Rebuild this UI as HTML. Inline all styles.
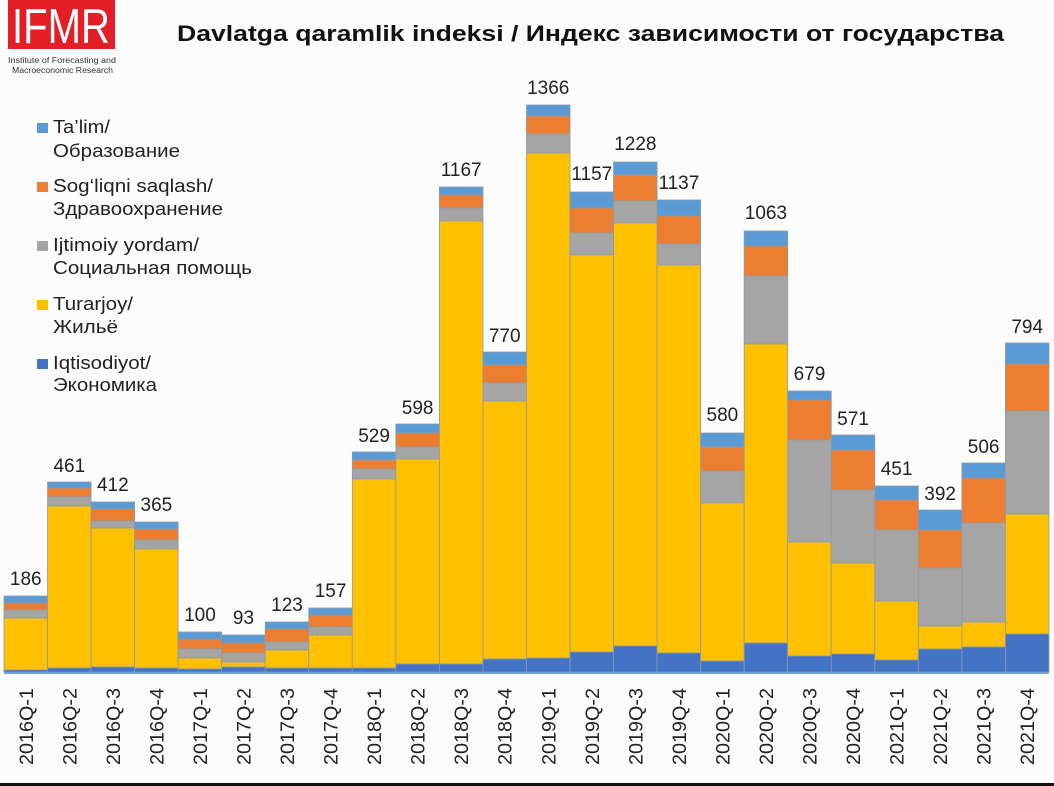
<!DOCTYPE html>
<html>
<head>
<meta charset="utf-8">
<style>
html,body{margin:0;padding:0;background:#fcfcfc;}
svg{display:block;}
text{font-family:"Liberation Sans",Arial,sans-serif;}
.a{fill:#5B9BD5}.b{fill:#ED7D31}.c{fill:#A5A5A5}.d{fill:#FFC000}.e{fill:#4472C4}
.bars rect{stroke:#8b9bab;stroke-width:0.8}
.v{font-size:19px;fill:#222;text-anchor:middle}
.xl{font-size:19px;fill:#222}
.lg{font-size:18px;fill:#222}
</style>
</head>
<body>
<svg width="1054" height="786" viewBox="0 0 1054 786" xmlns="http://www.w3.org/2000/svg">
<rect x="0" y="0" width="1054" height="786" fill="#fcfcfc"/>
<!-- logo -->
<rect x="8" y="0" width="107" height="49" fill="#E41E26"/>
<text x="12" y="43" font-size="49" fill="#fff" textLength="98" lengthAdjust="spacingAndGlyphs">IFMR</text>
<text x="8" y="63" font-size="8.5" fill="#333" textLength="108" lengthAdjust="spacingAndGlyphs">Institute of Forecasting and</text>
<text x="12" y="73" font-size="8.5" fill="#333" textLength="101" lengthAdjust="spacingAndGlyphs">Macroeconomic Research</text>
<!-- title -->
<text x="177" y="41" font-size="22" font-weight="bold" fill="#111" textLength="827" lengthAdjust="spacingAndGlyphs">Davlatga qaramlik indeksi / Индекс зависимости от государства</text>
<!-- legend -->
<rect class="a" x="37" y="123" width="11" height="10"/>
<text class="lg" x="53" y="133" textLength="57" lengthAdjust="spacingAndGlyphs">Ta’lim/</text>
<text class="lg" x="53" y="157" textLength="127" lengthAdjust="spacingAndGlyphs">Образование</text>
<rect class="b" x="37" y="182" width="11" height="10"/>
<text class="lg" x="53" y="192" textLength="160" lengthAdjust="spacingAndGlyphs">Sog‘liqni saqlash/</text>
<text class="lg" x="53" y="215" textLength="170" lengthAdjust="spacingAndGlyphs">Здравоохранение</text>
<rect class="c" x="37" y="241" width="11" height="10"/>
<text class="lg" x="53" y="251" textLength="146" lengthAdjust="spacingAndGlyphs">Ijtimoiy yordam/</text>
<text class="lg" x="53" y="274" textLength="199" lengthAdjust="spacingAndGlyphs">Социальная помощь</text>
<rect class="d" x="37" y="300" width="11" height="10"/>
<text class="lg" x="53" y="310" textLength="80" lengthAdjust="spacingAndGlyphs">Turarjoy/</text>
<text class="lg" x="53" y="333" textLength="65" lengthAdjust="spacingAndGlyphs">Жильё</text>
<rect class="e" x="37" y="359" width="11" height="10"/>
<text class="lg" x="53" y="369" textLength="98" lengthAdjust="spacingAndGlyphs">Iqtisodiyot/</text>
<text class="lg" x="53" y="391" textLength="104" lengthAdjust="spacingAndGlyphs">Экономика</text>
<!-- bars -->
<g class="bars">
<g transform="translate(4,0)"><rect class="a" x="0" width="43.54" y="596" height="7"/><rect class="b" x="0" width="43.54" y="603" height="7"/><rect class="c" x="0" width="43.54" y="610" height="8"/><rect class="d" x="0" width="43.54" y="618" height="52"/><rect class="e" x="0" width="43.54" y="670" height="2"/></g>
<g transform="translate(47.54,0)"><rect class="a" x="0" width="43.54" y="482" height="6"/><rect class="b" x="0" width="43.54" y="488" height="9"/><rect class="c" x="0" width="43.54" y="497" height="9"/><rect class="d" x="0" width="43.54" y="506" height="162"/><rect class="e" x="0" width="43.54" y="668" height="4"/></g>
<g transform="translate(91.08,0)"><rect class="a" x="0" width="43.54" y="502" height="7"/><rect class="b" x="0" width="43.54" y="509" height="12"/><rect class="c" x="0" width="43.54" y="521" height="7"/><rect class="d" x="0" width="43.54" y="528" height="139"/><rect class="e" x="0" width="43.54" y="667" height="5"/></g>
<g transform="translate(134.62,0)"><rect class="a" x="0" width="43.54" y="522" height="7"/><rect class="b" x="0" width="43.54" y="529" height="11"/><rect class="c" x="0" width="43.54" y="540" height="9"/><rect class="d" x="0" width="43.54" y="549" height="119"/><rect class="e" x="0" width="43.54" y="668" height="4"/></g>
<g transform="translate(178.16,0)"><rect class="a" x="0" width="43.54" y="632" height="7"/><rect class="b" x="0" width="43.54" y="639" height="10"/><rect class="c" x="0" width="43.54" y="649" height="9"/><rect class="d" x="0" width="43.54" y="658" height="11"/><rect class="e" x="0" width="43.54" y="669" height="3"/></g>
<g transform="translate(221.70,0)"><rect class="a" x="0" width="43.54" y="635" height="8"/><rect class="b" x="0" width="43.54" y="643" height="10"/><rect class="c" x="0" width="43.54" y="653" height="9"/><rect class="d" x="0" width="43.54" y="662" height="5"/><rect class="e" x="0" width="43.54" y="667" height="5"/></g>
<g transform="translate(265.24,0)"><rect class="a" x="0" width="43.54" y="622" height="7"/><rect class="b" x="0" width="43.54" y="629" height="13"/><rect class="c" x="0" width="43.54" y="642" height="8"/><rect class="d" x="0" width="43.54" y="650" height="18"/><rect class="e" x="0" width="43.54" y="668" height="4"/></g>
<g transform="translate(308.78,0)"><rect class="a" x="0" width="43.54" y="608" height="7"/><rect class="b" x="0" width="43.54" y="615" height="12"/><rect class="c" x="0" width="43.54" y="627" height="8"/><rect class="d" x="0" width="43.54" y="635" height="33"/><rect class="e" x="0" width="43.54" y="668" height="4"/></g>
<g transform="translate(352.32,0)"><rect class="a" x="0" width="43.54" y="452" height="8"/><rect class="b" x="0" width="43.54" y="460" height="9"/><rect class="c" x="0" width="43.54" y="469" height="10"/><rect class="d" x="0" width="43.54" y="479" height="189"/><rect class="e" x="0" width="43.54" y="668" height="4"/></g>
<g transform="translate(395.86,0)"><rect class="a" x="0" width="43.54" y="424" height="9"/><rect class="b" x="0" width="43.54" y="433" height="14"/><rect class="c" x="0" width="43.54" y="447" height="12"/><rect class="d" x="0" width="43.54" y="459" height="205"/><rect class="e" x="0" width="43.54" y="664" height="8"/></g>
<g transform="translate(439.40,0)"><rect class="a" x="0" width="43.54" y="187" height="8"/><rect class="b" x="0" width="43.54" y="195" height="13"/><rect class="c" x="0" width="43.54" y="208" height="13"/><rect class="d" x="0" width="43.54" y="221" height="443"/><rect class="e" x="0" width="43.54" y="664" height="8"/></g>
<g transform="translate(482.94,0)"><rect class="a" x="0" width="43.54" y="352" height="13"/><rect class="b" x="0" width="43.54" y="365" height="18"/><rect class="c" x="0" width="43.54" y="383" height="18"/><rect class="d" x="0" width="43.54" y="401" height="258"/><rect class="e" x="0" width="43.54" y="659" height="13"/></g>
<g transform="translate(526.48,0)"><rect class="a" x="0" width="43.54" y="105" height="11"/><rect class="b" x="0" width="43.54" y="116" height="18"/><rect class="c" x="0" width="43.54" y="134" height="19"/><rect class="d" x="0" width="43.54" y="153" height="505"/><rect class="e" x="0" width="43.54" y="658" height="14"/></g>
<g transform="translate(570.02,0)"><rect class="a" x="0" width="43.54" y="192" height="16"/><rect class="b" x="0" width="43.54" y="208" height="25"/><rect class="c" x="0" width="43.54" y="233" height="22"/><rect class="d" x="0" width="43.54" y="255" height="397"/><rect class="e" x="0" width="43.54" y="652" height="20"/></g>
<g transform="translate(613.56,0)"><rect class="a" x="0" width="43.54" y="162" height="13"/><rect class="b" x="0" width="43.54" y="175" height="26"/><rect class="c" x="0" width="43.54" y="201" height="22"/><rect class="d" x="0" width="43.54" y="223" height="423"/><rect class="e" x="0" width="43.54" y="646" height="26"/></g>
<g transform="translate(657.10,0)"><rect class="a" x="0" width="43.54" y="200" height="16"/><rect class="b" x="0" width="43.54" y="216" height="28"/><rect class="c" x="0" width="43.54" y="244" height="21"/><rect class="d" x="0" width="43.54" y="265" height="388"/><rect class="e" x="0" width="43.54" y="653" height="19"/></g>
<g transform="translate(700.64,0)"><rect class="a" x="0" width="43.54" y="433" height="14"/><rect class="b" x="0" width="43.54" y="447" height="24"/><rect class="c" x="0" width="43.54" y="471" height="32"/><rect class="d" x="0" width="43.54" y="503" height="158"/><rect class="e" x="0" width="43.54" y="661" height="11"/></g>
<g transform="translate(744.18,0)"><rect class="a" x="0" width="43.54" y="231" height="15"/><rect class="b" x="0" width="43.54" y="246" height="30"/><rect class="c" x="0" width="43.54" y="276" height="68"/><rect class="d" x="0" width="43.54" y="344" height="299"/><rect class="e" x="0" width="43.54" y="643" height="29"/></g>
<g transform="translate(787.72,0)"><rect class="a" x="0" width="43.54" y="391" height="9"/><rect class="b" x="0" width="43.54" y="400" height="40"/><rect class="c" x="0" width="43.54" y="440" height="102"/><rect class="d" x="0" width="43.54" y="542" height="114"/><rect class="e" x="0" width="43.54" y="656" height="16"/></g>
<g transform="translate(831.26,0)"><rect class="a" x="0" width="43.54" y="435" height="15"/><rect class="b" x="0" width="43.54" y="450" height="40"/><rect class="c" x="0" width="43.54" y="490" height="73"/><rect class="d" x="0" width="43.54" y="563" height="91"/><rect class="e" x="0" width="43.54" y="654" height="18"/></g>
<g transform="translate(874.80,0)"><rect class="a" x="0" width="43.54" y="486" height="14"/><rect class="b" x="0" width="43.54" y="500" height="30"/><rect class="c" x="0" width="43.54" y="530" height="71"/><rect class="d" x="0" width="43.54" y="601" height="59"/><rect class="e" x="0" width="43.54" y="660" height="12"/></g>
<g transform="translate(918.34,0)"><rect class="a" x="0" width="43.54" y="510" height="20"/><rect class="b" x="0" width="43.54" y="530" height="38"/><rect class="c" x="0" width="43.54" y="568" height="58"/><rect class="d" x="0" width="43.54" y="626" height="23"/><rect class="e" x="0" width="43.54" y="649" height="23"/></g>
<g transform="translate(961.88,0)"><rect class="a" x="0" width="43.54" y="463" height="15"/><rect class="b" x="0" width="43.54" y="478" height="45"/><rect class="c" x="0" width="43.54" y="523" height="99"/><rect class="d" x="0" width="43.54" y="622" height="25"/><rect class="e" x="0" width="43.54" y="647" height="25"/></g>
<g transform="translate(1005.42,0)"><rect class="a" x="0" width="43.54" y="343" height="21"/><rect class="b" x="0" width="43.54" y="364" height="47"/><rect class="c" x="0" width="43.54" y="411" height="103"/><rect class="d" x="0" width="43.54" y="514" height="120"/><rect class="e" x="0" width="43.54" y="634" height="38"/></g>
</g>
<!-- axis line -->
<line x1="4" y1="673" x2="1049" y2="673" stroke="#6fa3d8" stroke-width="2"/>
<!-- value labels -->
<text class="v" x="25.77" y="585">186</text>
<text class="v" x="69.31" y="472">461</text>
<text class="v" x="112.85" y="491">412</text>
<text class="v" x="156.39" y="511">365</text>
<text class="v" x="199.93" y="621">100</text>
<text class="v" x="243.47" y="624">93</text>
<text class="v" x="287.01" y="611">123</text>
<text class="v" x="330.55" y="597">157</text>
<text class="v" x="374.09" y="442">529</text>
<text class="v" x="417.63" y="414">598</text>
<text class="v" x="461.17" y="176">1167</text>
<text class="v" x="504.71" y="342">770</text>
<text class="v" x="548.25" y="94">1366</text>
<text class="v" x="591.79" y="180">1157</text>
<text class="v" x="635.33" y="150">1228</text>
<text class="v" x="678.87" y="189">1137</text>
<text class="v" x="722.41" y="421">580</text>
<text class="v" x="765.95" y="219">1063</text>
<text class="v" x="809.49" y="380">679</text>
<text class="v" x="853.03" y="425">571</text>
<text class="v" x="896.57" y="475">451</text>
<text class="v" x="940.11" y="500">392</text>
<text class="v" x="983.65" y="453">506</text>
<text class="v" x="1027.19" y="333">794</text>
<!-- x labels -->
<g class="xl">
<text transform="translate(32.77,765) rotate(-90)" textLength="77" lengthAdjust="spacingAndGlyphs">2016Q-1</text>
<text transform="translate(76.31,765) rotate(-90)" textLength="77" lengthAdjust="spacingAndGlyphs">2016Q-2</text>
<text transform="translate(119.85,765) rotate(-90)" textLength="77" lengthAdjust="spacingAndGlyphs">2016Q-3</text>
<text transform="translate(163.39,765) rotate(-90)" textLength="77" lengthAdjust="spacingAndGlyphs">2016Q-4</text>
<text transform="translate(206.93,765) rotate(-90)" textLength="77" lengthAdjust="spacingAndGlyphs">2017Q-1</text>
<text transform="translate(250.47,765) rotate(-90)" textLength="77" lengthAdjust="spacingAndGlyphs">2017Q-2</text>
<text transform="translate(294.01,765) rotate(-90)" textLength="77" lengthAdjust="spacingAndGlyphs">2017Q-3</text>
<text transform="translate(337.55,765) rotate(-90)" textLength="77" lengthAdjust="spacingAndGlyphs">2017Q-4</text>
<text transform="translate(381.09,765) rotate(-90)" textLength="77" lengthAdjust="spacingAndGlyphs">2018Q-1</text>
<text transform="translate(424.63,765) rotate(-90)" textLength="77" lengthAdjust="spacingAndGlyphs">2018Q-2</text>
<text transform="translate(468.17,765) rotate(-90)" textLength="77" lengthAdjust="spacingAndGlyphs">2018Q-3</text>
<text transform="translate(511.71,765) rotate(-90)" textLength="77" lengthAdjust="spacingAndGlyphs">2018Q-4</text>
<text transform="translate(555.25,765) rotate(-90)" textLength="77" lengthAdjust="spacingAndGlyphs">2019Q-1</text>
<text transform="translate(598.79,765) rotate(-90)" textLength="77" lengthAdjust="spacingAndGlyphs">2019Q-2</text>
<text transform="translate(642.33,765) rotate(-90)" textLength="77" lengthAdjust="spacingAndGlyphs">2019Q-3</text>
<text transform="translate(685.87,765) rotate(-90)" textLength="77" lengthAdjust="spacingAndGlyphs">2019Q-4</text>
<text transform="translate(729.41,765) rotate(-90)" textLength="77" lengthAdjust="spacingAndGlyphs">2020Q-1</text>
<text transform="translate(772.95,765) rotate(-90)" textLength="77" lengthAdjust="spacingAndGlyphs">2020Q-2</text>
<text transform="translate(816.49,765) rotate(-90)" textLength="77" lengthAdjust="spacingAndGlyphs">2020Q-3</text>
<text transform="translate(860.03,765) rotate(-90)" textLength="77" lengthAdjust="spacingAndGlyphs">2020Q-4</text>
<text transform="translate(903.57,765) rotate(-90)" textLength="77" lengthAdjust="spacingAndGlyphs">2021Q-1</text>
<text transform="translate(947.11,765) rotate(-90)" textLength="77" lengthAdjust="spacingAndGlyphs">2021Q-2</text>
<text transform="translate(990.65,765) rotate(-90)" textLength="77" lengthAdjust="spacingAndGlyphs">2021Q-3</text>
<text transform="translate(1034.19,765) rotate(-90)" textLength="77" lengthAdjust="spacingAndGlyphs">2021Q-4</text>
</g>
<!-- bottom black band -->
<rect x="0" y="783" width="1054" height="3" fill="#111"/>
</svg>
</body>
</html>
